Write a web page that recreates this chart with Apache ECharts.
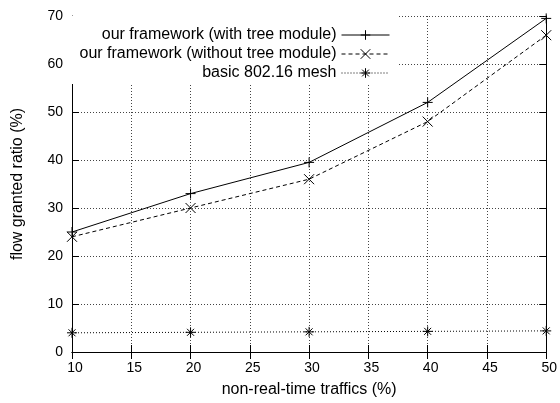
<!DOCTYPE html>
<html><head><meta charset="utf-8">
<script src="https://cdn.jsdelivr.net/npm/echarts@6/dist/echarts.min.js"></script>
<style>html,body{margin:0;padding:0;background:#fff}#c{width:560px;height:403px}</style>
</head><body><div id="c"></div>
<script>
var traffic = [10, 20, 30, 40, 50];
var withTree = [25, 33, 39.5, 52, 69.5];
var withoutTree = [24, 30, 36, 48, 66];
var basicMesh = [4.0, 4.1, 4.2, 4.3, 4.4];
var seriesNames = ['our framework (with tree module)', 'our framework (without tree module)', 'basic 802.16 mesh'];

var FONT = 'Liberation Sans, Arial, Helvetica, sans-serif';
var plus = 'path://M0,5L10,5M5,0L5,10';
var cross = 'path://M0,0L10,10M10,0L0,10';
var star = 'path://M0,5L10,5M5,0L5,10M1.5,1.5L8.5,8.5M8.5,1.5L1.5,8.5';

function pairs(ys){ return traffic.map(function(x,i){return [x, ys[i]];}); }

var axisCommon = {
  axisLine:{show:true, lineStyle:{color:'#000', width:1}},
  axisTick:{show:true, inside:true, length:7, lineStyle:{color:'#000'}}
};
var chart = echarts.init(document.getElementById('c'), null, {renderer:'canvas'});
function mkSeries(name, ys, sym, dash){
  return {
    name:name, type:'line', data:pairs(ys), symbol:sym, symbolSize:10, symbolKeepAspect:true,
    showAllSymbol:true,
    lineStyle:{color:'#000', width:1, type:dash},
    itemStyle:{color:'#000', borderColor:'#000', borderWidth:1},
    emphasis:{disabled:true}, silent:true, z:3
  };
}
chart.setOption({
  animation:false,
  backgroundColor:'#fff',
  textStyle:{fontFamily:FONT},
  grid:{left:72, right:11, top:16, bottom:51, containLabel:false},
  legend:{
    orient:'vertical', align:'right', right:162, top:16,
    padding:[11,8,3,9], backgroundColor:'#fff',
    itemWidth:48, itemHeight:12, itemGap:3,
    itemStyle:{color:'#000', borderColor:'#000', borderWidth:1, borderType:'solid'},
    lineStyle:{width:1},
    textStyle:{fontFamily:FONT, fontSize:16, color:'#000'},
    data:seriesNames, selectedMode:false
  },
  xAxis:[
    Object.assign({type:'value', min:10, max:50, interval:5, position:'bottom',
      name:'non-real-time traffics (%)', nameLocation:'middle', nameGap:30,
      nameTextStyle:{fontFamily:FONT, fontSize:16, color:'#000'},
      axisLabel:{fontFamily:FONT, fontSize:14, color:'#000', margin:9, padding:[0,0,0,6]},
      splitLine:{show:true, lineStyle:{color:'#444', width:1, type:[1,2]}}
    }, axisCommon),
    Object.assign({type:'value', min:10, max:50, interval:5, position:'top',
      axisLabel:{show:false}, splitLine:{show:false}}, axisCommon)
  ],
  yAxis:[
    Object.assign({type:'value', min:0, max:70, interval:10, position:'left',
      name:'flow granted ratio (%)', nameLocation:'middle', nameGap:46, nameRotate:90,
      nameTextStyle:{fontFamily:FONT, fontSize:16, color:'#000'},
      axisLabel:{fontFamily:FONT, fontSize:14, color:'#000', margin:9},
      splitLine:{show:true, lineStyle:{color:'#444', width:1, type:[1,2]}}
    }, axisCommon),
    Object.assign({type:'value', min:0, max:70, interval:10, position:'right',
      axisLabel:{show:false}, splitLine:{show:false}}, axisCommon)
  ],
  series:[
    mkSeries(seriesNames[0], withTree, plus, 'solid'),
    mkSeries(seriesNames[1], withoutTree, cross, [4,3]),
    mkSeries(seriesNames[2], basicMesh, star, [1,2])
  ]
});
</script></body></html>
